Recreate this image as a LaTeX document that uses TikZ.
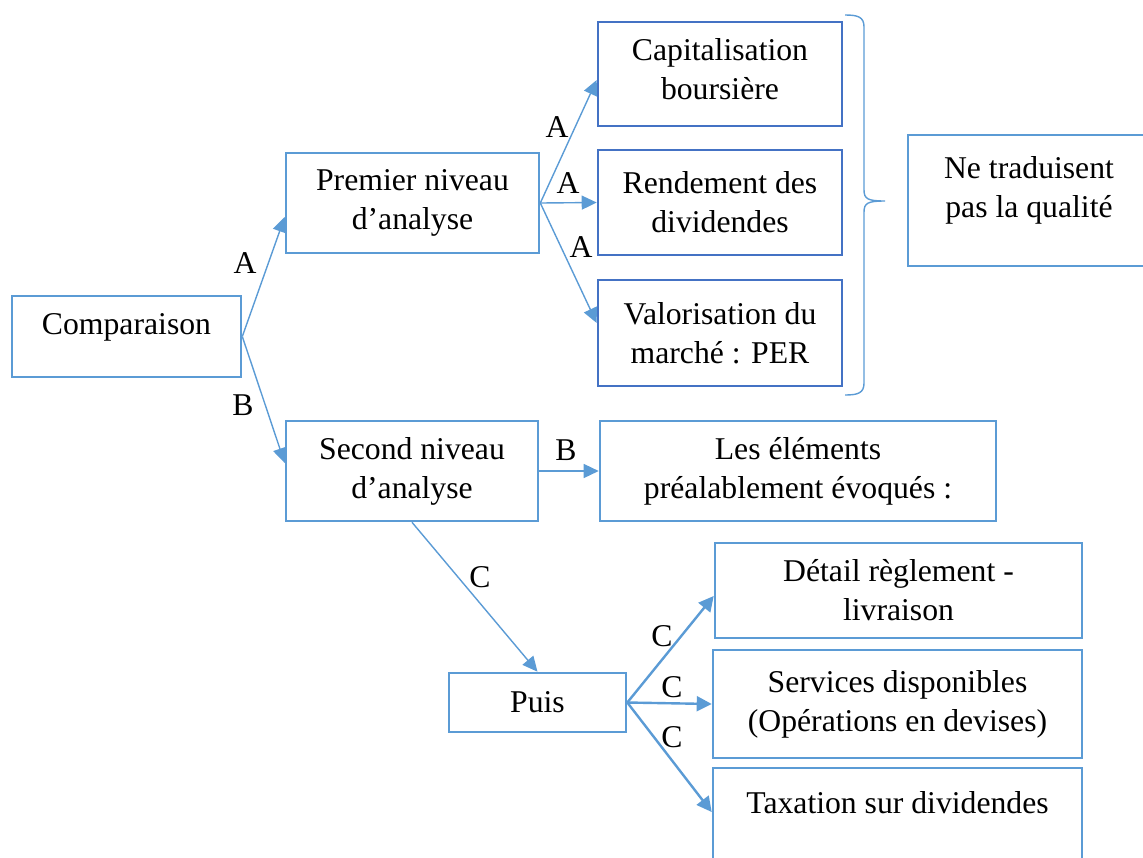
\documentclass[tikz,border=0pt]{standalone}
\usepackage{fontspec}
\setmainfont{Liberation Serif}
\usetikzlibrary{arrows.meta}

\definecolor{BoiteBleue}{HTML}{5B9BD5}
\definecolor{BoiteFoncee}{HTML}{4472C4}

\tikzset{
  texte/.style={font=\fontsize{15.85}{19.5}\selectfont},
  boite/.style={texte, draw=BoiteBleue, line width=1.3pt, align=center, inner sep=2pt},
  boiteA/.style={boite, draw=BoiteFoncee},
  lien/.style={draw=BoiteBleue, line width=0.7pt, -{Triangle[length=7.5pt,width=7pt]}},
  lienfort/.style={lien, line width=1.2pt, -{Triangle[length=7.5pt,width=7.5pt]}},
  lettre/.style={texte, inner sep=0pt}
}

\begin{document}
\begin{tikzpicture}[x=0.5pt,y=-0.5pt]

  \useasboundingbox (0,0) rectangle (1143,857);

  %–– Boîtes principales ––
  \node[boite, minimum width=114.5pt, minimum height=40.5pt, text depth=12.5pt] (comp) at (126.5,336.5) {Comparaison};
  \node[boite, minimum width=126.5pt, minimum height=50pt] (prem) at (412.5,203) {Premier niveau\\d’analyse};
  \node[boite, minimum width=126pt, minimum height=50pt] (sec) at (412,471) {Second niveau\\d’analyse};

  %–– Premier niveau ––
  \node[boiteA, minimum width=122pt, minimum height=52pt, text depth=5pt] (cap) at (720,74) {Capitalisation\\boursière};
  \node[boiteA, minimum width=122pt, minimum height=52.5pt] (rend) at (720,202.5) {Rendement des\\dividendes};
  \node[boiteA, minimum width=122pt, minimum height=53pt] (valo) at (720,333) {Valorisation du\\marché : PER};
  \node[boite, minimum width=121pt, minimum height=65.5pt, text depth=13.5pt] (ne) at (1029,200.5) {Ne traduisent\\pas la qualité};

  %–– Accolade ––
  \draw[BoiteBleue, line width=0.7pt]
    (845,15) .. controls (858,15) and (864,17) .. (864,27) -- (864,190)
    .. controls (864,199) and (868,201) .. (885,201)
    .. controls (868,201) and (864,203) .. (864,212) -- (864,383)
    .. controls (864,393) and (858,395) .. (845,395);

  %–– Second niveau ––
  \node[boite, minimum width=198pt, minimum height=50pt] (elem) at (798,471) {Les éléments\\préalablement évoqués :};
  \node[boite, minimum width=88.5pt, minimum height=29.5pt] (puis) at (537.5,702.5) {Puis};
  \node[boite, minimum width=183.5pt, minimum height=47.5pt] (det) at (898.5,590.5) {Détail règlement -\\livraison};
  \node[boite, minimum width=184.5pt, minimum height=54pt] (serv) at (897.5,704) {Services disponibles\\(Opérations en devises)};
  \node[boite, minimum width=184.5pt, minimum height=52pt, text depth=18pt] (tax) at (897.5,820) {Taxation sur dividendes};

  %–– Flèches ––
  \draw[lien] (comp.east) -- ([yshift=-7pt]prem.west);
  \draw[lien] (comp.east) -- ([yshift=4pt]sec.west);
  \draw[lien] (prem.east) -- ([yshift=-3pt]cap.west);
  \draw[lien] (prem.east) -- (rend.west);
  \draw[lien] (prem.east) -- ([yshift=5pt]valo.west);
  \draw[lien] (sec.east) -- (elem.west);
  \draw[lien] (sec.south) -- (puis.north);
  \draw[lienfort] (puis.east) -- ([yshift=-2.75pt]det.west);
  \draw[lienfort] (puis.east) -- (serv.west);
  \draw[lienfort] (puis.east) -- ([yshift=4pt]tax.west);

  %–– Lettres ––
  \node[lettre] (la1) at (245,263) {A};
  \node[lettre] (lb1) at (243,405) {B};
  \node[lettre] (la2) at (557,127) {A};
  \node[lettre] (la3) at (568,183) {A};
  \node[lettre] (la4) at (581,247) {A};
  \node[lettre] (lb2) at (566,450) {B};
  \node[lettre] (lc1) at (480,577) {C};
  \node[lettre] (lc2) at (662,636) {C};
  \node[lettre] (lc3) at (672,687) {C};
  \node[lettre] (lc4) at (672,737) {C};

\end{tikzpicture}
\end{document}
